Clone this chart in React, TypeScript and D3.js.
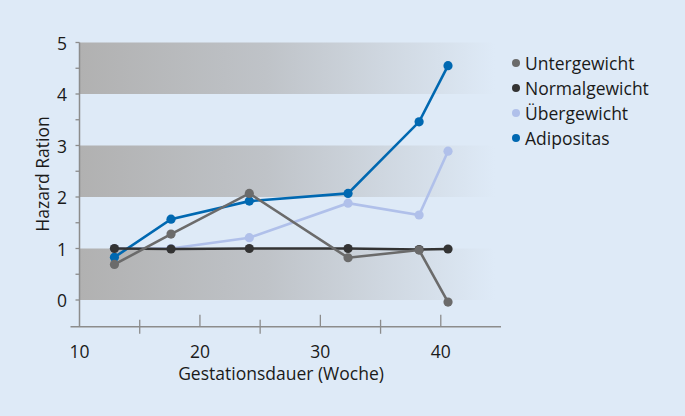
import { useEffect, useRef } from 'react';
import * as d3 from 'd3';

// Gestational week of each measurement
const weeks = [12.9, 17.6, 24.1, 32.3, 38.2, 40.6];

const untergewicht = [0.69, 1.28, 2.07, 0.82, 0.97, -0.04];
const normalgewicht = [1.0, 0.99, 1.0, 1.0, 0.98, 0.99];
const uebergewicht = [1.0, 1.0, 1.21, 1.88, 1.65, 2.89];
const adipositas = [0.83, 1.57, 1.92, 2.07, 3.46, 4.55];

const seriesNames = ['Untergewicht', 'Normalgewicht', 'Übergewicht', 'Adipositas'];
const seriesColors = ['#6b6b6b', '#333333', '#b0c0ea', '#0068b1'];

const xTicks = [10, 20, 30, 40];
const xMinorTicks = [15, 25, 35];
const yTicks = [0, 1, 2, 3, 4, 5];
const yMinorTicks = [0.5, 1.5, 2.5, 3.5, 4.5];
const bands = [[0, 1], [2, 3], [4, 5]];

const W = 685;
const H = 416;
const BG = '#deeaf7';
const AXIS = '#8c8c8c';
const FONT = '"Open Sans", "Noto Sans", sans-serif';
const FS = 17.5;

export default function App() {
    const svgRef = useRef<SVGSVGElement>(null);

    useEffect(() => {
        if (!svgRef.current) return;
        const svg = d3.select(svgRef.current);
        svg.selectAll('*').remove();

        const x = d3.scaleLinear().domain([10, 45]).range([79.5, 501]);
        const y = d3.scaleLinear().domain([0, 5]).range([300, 42.5]);

        svg.append('rect').attr('width', W).attr('height', H).attr('fill', BG);

        // Gradient for the grey bands
        const defs = svg.append('defs');
        const grad = defs.append('linearGradient')
            .attr('id', 'band-grad')
            .attr('x1', '0%').attr('y1', '0%')
            .attr('x2', '100%').attr('y2', '0%');
        grad.append('stop').attr('offset', '0%').attr('stop-color', '#b1b1b1');
        grad.append('stop').attr('offset', '45%').attr('stop-color', '#bfc3c8');
        grad.append('stop').attr('offset', '100%').attr('stop-color', BG);

        const g = svg.append('g');

        g.selectAll('.band')
            .data(bands)
            .join('rect')
            .attr('class', 'band')
            .attr('x', x(10))
            .attr('y', d => y(d[1]))
            .attr('width', x(44.5) - x(10))
            .attr('height', d => y(d[0]) - y(d[1]))
            .attr('fill', 'url(#band-grad)');

        // Axes
        const axisY = y(-0.52);
        g.append('line')
            .attr('x1', x(10)).attr('x2', x(10))
            .attr('y1', y(5)).attr('y2', axisY)
            .attr('stroke', AXIS).attr('stroke-width', 1.5);
        g.append('line')
            .attr('x1', x(10) - 9).attr('x2', x(45))
            .attr('y1', axisY).attr('y2', axisY)
            .attr('stroke', AXIS).attr('stroke-width', 1.5);

        // y ticks
        g.selectAll('.ytick')
            .data([...yTicks, ...yMinorTicks])
            .join('line')
            .attr('x1', x(10) - 4).attr('x2', x(10))
            .attr('y1', d => y(d)).attr('y2', d => y(d))
            .attr('stroke', AXIS).attr('stroke-width', 1.3);

        g.selectAll('.ylab')
            .data(yTicks)
            .join('text')
            .attr('x', 67)
            .attr('y', d => y(d))
            .attr('text-anchor', 'end')
            .attr('dominant-baseline', 'central')
            .attr('font-family', FONT)
            .attr('font-size', FS)
            .attr('fill', '#1a1a1a')
            .text(d => d);

        // x ticks
        g.selectAll('.xtick')
            .data(xTicks.filter(d => d > 10))
            .join('line')
            .attr('x1', d => x(d)).attr('x2', d => x(d))
            .attr('y1', axisY - 12).attr('y2', axisY)
            .attr('stroke', AXIS).attr('stroke-width', 1.3);
        g.selectAll('.xminor')
            .data(xMinorTicks)
            .join('line')
            .attr('x1', d => x(d)).attr('x2', d => x(d))
            .attr('y1', axisY - 7).attr('y2', axisY + 7)
            .attr('stroke', AXIS).attr('stroke-width', 1.3);

        g.selectAll('.xlab')
            .data(xTicks)
            .join('text')
            .attr('x', d => x(d))
            .attr('y', 358)
            .attr('text-anchor', 'middle')
            .attr('font-family', FONT)
            .attr('font-size', FS)
            .attr('fill', '#1a1a1a')
            .text(d => d);

        g.append('text')
            .attr('x', 281)
            .attr('y', 380)
            .attr('text-anchor', 'middle')
            .attr('font-family', FONT)
            .attr('font-size', FS)
            .attr('fill', '#1a1a1a')
            .text('Gestationsdauer (Woche)');

        g.append('text')
            .attr('transform', 'translate(49,174) rotate(-90)')
            .attr('text-anchor', 'middle')
            .attr('font-family', FONT)
            .attr('font-size', FS)
            .attr('fill', '#1a1a1a')
            .text('Hazard Ration');

        // Lines
        const series = [untergewicht, normalgewicht, uebergewicht, adipositas];
        const drawOrder = [2, 3, 1, 0];
        const line = d3.line<number>()
            .x((_, i) => x(weeks[i]))
            .y(d => y(d));

        drawOrder.forEach(si => {
            const sg = g.append('g');
            sg.append('path')
                .attr('d', line(series[si]))
                .attr('fill', 'none')
                .attr('stroke', seriesColors[si])
                .attr('stroke-width', 2.6);
            sg.selectAll('circle')
                .data(series[si])
                .join('circle')
                .attr('cx', (_, i) => x(weeks[i]))
                .attr('cy', d => y(d))
                .attr('r', 4.6)
                .attr('fill', seriesColors[si]);
        });

        // Legend
        const legend = g.append('g').attr('transform', 'translate(516,63)');
        seriesNames.forEach((name, i) => {
            legend.append('circle')
                .attr('cx', 0)
                .attr('cy', i * 25)
                .attr('r', 4)
                .attr('fill', seriesColors[i]);
            legend.append('text')
                .attr('x', 9)
                .attr('y', i * 25)
                .attr('dominant-baseline', 'central')
                .attr('font-family', FONT)
                .attr('font-size', FS)
                .attr('fill', '#1a1a1a')
                .text(name);
        });
    }, []);

    return (
        <svg
            ref={svgRef}
            width={W}
            height={H}
            style={{ position: 'absolute', left: 0, top: 0 }}
        />
    );
}
